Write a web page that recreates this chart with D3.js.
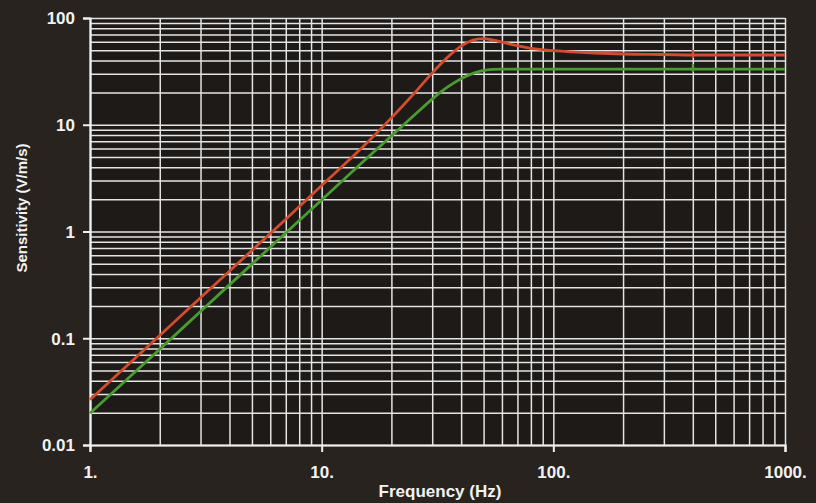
<!DOCTYPE html>
<html>
<head>
<meta charset="utf-8">
<script src="https://cdn.jsdelivr.net/npm/d3@7"></script>
<style>
  html, body { margin: 0; padding: 0; background: #28231f; }
  svg { display: block; }
  text { font-family: "Liberation Sans", Arial, sans-serif; font-weight: bold; fill: #f2f2f2; }
</style>
</head>
<body>
<script>
// ---- data ----
const freq  = [1, 2, 3, 5, 7, 10, 15, 20, 25, 30, 35, 40, 45, 50, 55, 60, 70, 80, 100, 150, 200, 300, 400, 600, 1000];
const red   = [0.0265, 0.106, 0.24, 0.665, 1.3, 2.7, 6.15, 11.6, 19.5, 30.5, 43, 54.5, 62, 64, 62, 59.5, 55, 52, 49.5, 47, 46, 45.5, 45, 45, 45];
const green = [0.0198, 0.079, 0.178, 0.495, 0.97, 1.97, 4.45, 7.85, 12.2, 17.4, 22.6, 27, 30.3, 32.3, 33, 33.2, 33.2, 33.2, 33.2, 33.2, 33.2, 33.2, 33.2, 33.2, 33.2];
const markerFreq = [400];
const xTicks = [1, 10, 100, 1000];
const xTickLabels = ["1.", "10.", "100.", "1000."];
const yTicks = [0.01, 0.1, 1, 10, 100];
const yTickLabels = ["0.01", "0.1", "1", "10", "100"];
const xTitle = "Frequency (Hz)";
const yTitle = "Sensitivity (V/m/s)";

const W = 816, H = 503;
const L = 90, R = 785, T = 18, B = 445;

const svg = d3.select("body").append("svg").attr("width", W).attr("height", H);
svg.append("rect").attr("width", W).attr("height", H).attr("fill", "#28231f");
svg.append("rect").attr("x", L).attr("y", T).attr("width", R - L).attr("height", B - T).attr("fill", "#1d1a18");

const x = d3.scaleLog().domain([1, 1000]).range([L, R]);
const y = d3.scaleLog().domain([0.01, 100]).range([B, T]);

// minor + major grid
const xGrid = [];
for (let d = 1; d < 1000; d *= 10) for (let k = 1; k <= 9; k++) xGrid.push(d * k);
xGrid.push(1000);
const yGrid = [];
for (let d = 0.01; d < 99; d *= 10) for (let k = 1; k <= 9; k++) yGrid.push(+(d * k).toPrecision(3));
yGrid.push(100);

const gridColor = "#e4e4e4";
svg.append("g").attr("transform", `translate(0,${B})`)
  .call(d3.axisBottom(x).tickValues(xGrid).tickSize(-(B - T)).tickFormat(""))
  .call(g => g.select(".domain").remove())
  .call(g => g.selectAll("line").attr("stroke", gridColor).attr("stroke-width", 1.5));
svg.append("g").attr("transform", `translate(${L},0)`)
  .call(d3.axisLeft(y).tickValues(yGrid).tickSize(-(R - L)).tickFormat(""))
  .call(g => g.select(".domain").remove())
  .call(g => g.selectAll("line").attr("stroke", gridColor).attr("stroke-width", 1.5));

// axes
const xa = svg.append("g").attr("transform", `translate(0,${B})`)
  .call(d3.axisBottom(x).tickValues(xTicks).tickSize(7).tickPadding(14)
    .tickFormat((d, i) => xTickLabels[i]));
const ya = svg.append("g").attr("transform", `translate(${L},0)`)
  .call(d3.axisLeft(y).tickValues(yTicks).tickSize(7).tickPadding(8)
    .tickFormat((d, i) => yTickLabels[i]));
[xa, ya].forEach(a => {
  a.select(".domain").attr("stroke", "#f0f0f0").attr("stroke-width", 2.2);
  a.selectAll("line").attr("stroke", "#f0f0f0").attr("stroke-width", 2);
  a.selectAll("text").attr("fill", "#f2f2f2").style("font-size", "17px")
    .style("font-family", '"Liberation Sans", Arial, sans-serif').style("font-weight", "bold");
});
ya.selectAll("text").attr("dy", "0.35em");

// curves
const line = d3.line().x(d => x(d[0])).y(d => y(d[1])).curve(d3.curveCatmullRom.alpha(0.5));
const series = [
  { vals: green, color: "#4a9c30" },
  { vals: red, color: "#d24c2e" }
];
series.forEach(s => {
  const pts = freq.map((f, i) => [f, s.vals[i]]);
  svg.append("path").datum(pts).attr("d", line)
    .attr("fill", "none").attr("stroke", s.color).attr("stroke-width", 2.8);
  markerFreq.forEach(mf => {
    const i = freq.indexOf(mf);
    svg.append("line")
      .attr("x1", x(mf)).attr("x2", x(mf))
      .attr("y1", y(s.vals[i]) - 5).attr("y2", y(s.vals[i]) + 3)
      .attr("stroke", s.color).attr("stroke-width", 2.2);
  });
});

// titles
svg.append("text").attr("x", 440).attr("y", 497).attr("text-anchor", "middle")
  .style("font-size", "17px").text(xTitle);
svg.append("text").attr("transform", "translate(27,208) rotate(-90)").attr("text-anchor", "middle")
  .style("font-size", "15px").text(yTitle);
</script>
</body>
</html>
